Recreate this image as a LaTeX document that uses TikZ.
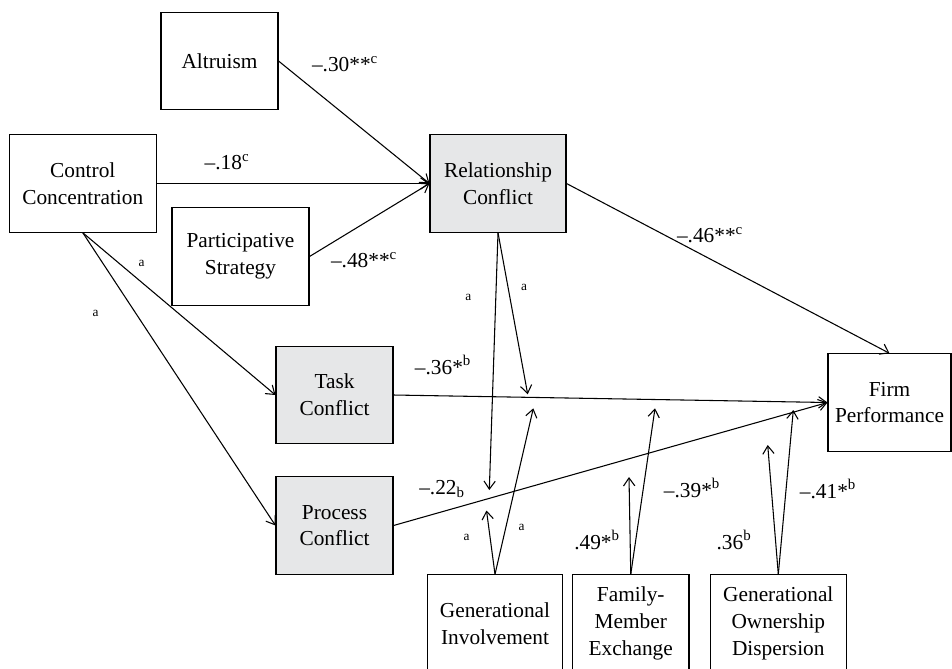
\documentclass[tikz,border=0pt]{standalone}
\usepackage{xcolor}
\usepackage{fontspec}
\setmainfont{Liberation Serif}
\usepackage{tikz}
\usetikzlibrary{arrows.meta}
\definecolor{conflictgray}{RGB}{230,231,232}

\begin{document}
\begin{tikzpicture}[x=0.75pt,y=0.75pt,yscale=-1,xscale=1,
        box/.style={draw, line width=0.8pt, minimum height=73pt, align=center, inner sep=0pt, font=\fontsize{16}{20}\selectfont},
        shaded/.style={box, fill=conflictgray},
        coef/.style={inner sep=0pt, font=\fontsize{16}{20}\selectfont},
        tag/.style={inner sep=0pt, font=\fontsize{10}{12}\selectfont},
        link/.style={line width=0.8pt, -{Straight Barb[length=6pt,width=8.5pt]}}]
        \clip (0,0) rectangle (952,668);

        \node [box, minimum width=87.75pt] (altruism) at (219.5,61) {Altruism};
        \node [box, minimum width=110pt] (control) at (82.75,183.5) {Control\\Concentration};
        \node [box, minimum width=102.75pt] (particip) at (240.5,256.5) {Participative\\Strategy};
        \node [shaded, minimum width=102pt] (relation) at (498,183.5) {Relationship\\Conflict};
        \node [shaded, minimum width=87.75pt] (task) at (334.5,395) {Task\\Conflict};
        \node [shaded, minimum width=87.75pt] (process) at (334.5,525.5) {Process\\Conflict};
        \node [box, minimum width=92.25pt] (firm) at (889.5,402.5) {Firm\\Performance};
        \node [box, minimum width=101.5pt] (geninv) at (495,623.5) {Generational\\Involvement};
        \node [box, minimum width=87.4pt] (fmx) at (630.75,623.5) {Family-\\Member\\Exchange};
        \node [box, minimum width=102pt] (genown) at (778.3,623.5) {Generational\\Ownership\\Dispersion};

        \draw [link] (altruism.east) -- (relation.west);
        \draw [link] (control.east) -- (relation.west);
        \draw [link] (particip.east) -- (relation.west);
        \draw [link] (control.south) -- (task.west);
        \draw [link] (control.south) -- (process.west);
        \draw [link] (task.east) -- (firm.west);
        \draw [link] (process.east) -- (firm.west);
        \draw [link] (relation.east) -- (firm.north);

        \coordinate (reltask) at (527.7,394.3);
        \coordinate (relproc) at (489.3,490);
        \coordinate (invproc) at (486.5,510.5);
        \coordinate (invtask) at (533.3,408.3);
        \coordinate (fmxproc) at (629,477);
        \coordinate (fmxtask) at (655,408.3);
        \coordinate (ownproc) at (767.7,445);
        \coordinate (owntask) at (793.3,410);
        \draw [link] (relation.south) -- (reltask);
        \draw [link] (relation.south) -- (relproc);
        \draw [link] (geninv.north) -- (invproc);
        \draw [link] (geninv.north) -- (invtask);
        \draw [link] (fmx.north) -- (fmxproc);
        \draw [link] (fmx.north) -- (fmxtask);
        \draw [link] (genown.north) -- (ownproc);
        \draw [link] (genown.north) -- (owntask);

        \node [coef] (c30) at (345,64) {--.30**\textsuperscript{c}};
        \node [coef] (c18) at (227,162) {--.18\textsuperscript{c}};
        \node [coef] (c48) at (364,260) {--.48**\textsuperscript{c}};
        \node [coef] (c46) at (710,235) {--.46**\textsuperscript{c}};
        \node [coef] (c36) at (443,365) {--.36*\textsuperscript{b}};
        \node [coef] (c22) at (442,489) {--.22\textsubscript{b}};
        \node [coef] (c49) at (597,540) {.49*\textsuperscript{b}};
        \node [coef] (c39) at (692,488) {--.39*\textsuperscript{b}};
        \node [coef] (c36o) at (734,540) {.36\textsuperscript{b}};
        \node [coef] (c41) at (828,489) {--.41*\textsuperscript{b}};

        \node [tag] (atask) at (141.7,263.3) {a};
        \node [tag] (aproc) at (95.7,313.3) {a};
        \node [tag] (arelproc) at (468.3,297.3) {a};
        \node [tag] (areltask) at (524,287.3) {a};
        \node [tag] (ainvproc) at (466.7,537.3) {a};
        \node [tag] (ainvtask) at (521.7,527.3) {a};

    \end{tikzpicture}
\end{document}
